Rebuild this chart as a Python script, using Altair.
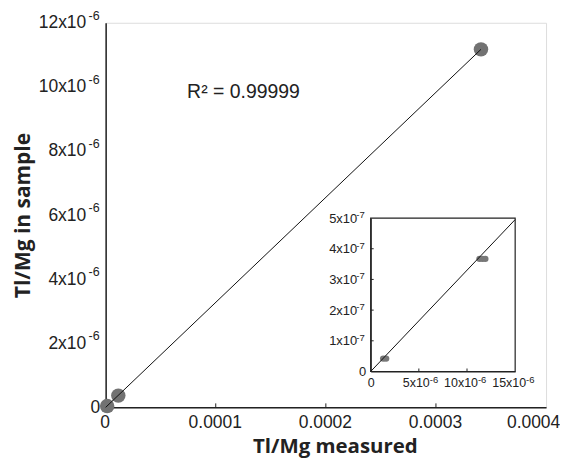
import altair as alt
import pandas as pd

# ---- data ----
main_x = [1.4e-6, 11.5e-6, 3.409e-4]
main_y = [4.2e-8, 3.67e-7, 11.17e-6]
fit_x = [0.0, 3.409e-4]
fit_y = [0.0, 11.17e-6]

inset_x = [1.3e-6, 1.6e-6, 11.3e-6, 11.6e-6, 11.9e-6]
inset_y = [4.2e-8, 4.2e-8, 3.67e-7, 3.67e-7, 3.67e-7]
inset_fit_x = [0.0, 15e-6]
inset_fit_y = [0.0, 4.95e-7]

x_ticks = [0, 1e-4, 2e-4, 3e-4, 4e-4]
y_ticks = [0, 2e-6, 4e-6, 6e-6, 8e-6, 10e-6, 12e-6]
y_exp_ticks = [2e-6, 4e-6, 6e-6, 8e-6, 10e-6, 12e-6]
x_inner_ticks = [1e-4, 2e-4, 3e-4]
inset_x_ticks = [0, 5e-6, 10e-6, 15e-6]
inset_x_exp = [5e-6, 10e-6, 15e-6]
inset_y_ticks = [0, 1e-7, 2e-7, 3e-7, 4e-7, 5e-7]
inset_y_exp = [1e-7, 2e-7, 3e-7, 4e-7, 5e-7]
inset_x_inner = [5e-6, 10e-6]
inset_y_inner = [1e-7, 2e-7, 3e-7, 4e-7]

exp6 = "-6"
exp7 = "-7"

r2_text = ["R\u00b2 = 0.99999"]
r2_x = [7.4e-5]
r2_y = [9.85e-6]

x_title = "Tl/Mg measured"
y_title = "Tl/Mg in sample"

W, H = 442, 386
INSET_XR = [266, 411]
INSET_YR = [350, 196]

LABEL_FONT = "Liberation Sans"
TITLE_FONT = "Open Sans"
INK = "#222222"

main_xscale = alt.Scale(domain=[0, 4e-4], nice=False, zero=False)
main_yscale = alt.Scale(domain=[0, 12e-6], nice=False, zero=False)
ins_xscale = alt.Scale(domain=[0, 15e-6], range=INSET_XR, nice=False, zero=False)
ins_yscale = alt.Scale(domain=[0, 5e-7], range=INSET_YR, nice=False, zero=False)

main_xaxis = alt.Axis(
    values=x_ticks,
    labelExpr="datum.value == 0 ? '0' : format(datum.value, '.4f')",
    labelFlush=False, labelOverlap=False,
    labelOffset={"condition": {"test": "datum.value > 0.00039", "value": -13}, "value": -1},
    tickSize=0, labelPadding=6, grid=False,
    labelFont=LABEL_FONT, labelFontSize=17.5, labelColor=INK,
    domainColor=INK, domainWidth=1.5,
    titleFont=TITLE_FONT, titleFontSize=20.5, titleFontWeight="bold", titleColor=INK,
    titleX=230, titleY=45, titleBaseline="alphabetic", titleAlign="center",
)
main_yaxis = alt.Axis(
    values=y_ticks,
    labelExpr="datum.value == 0 ? '0' : round(datum.value * 1e6) + 'x10'",
    labelOverlap=False, labelFlush=False,
    labelPadding={"condition": {"test": "datum.value == 0", "value": 6}, "value": 20},
    tickSize=0, grid=False,
    labelFont=LABEL_FONT, labelFontSize=17.5, labelColor=INK,
    domainColor=INK, domainWidth=1.5,
    titleFont=TITLE_FONT, titleFontSize=21, titleFontWeight="bold", titleColor=INK,
    titleX=-82, titleY=H / 2, titleAngle=270, titleAlign="center", titleBaseline="middle",
)

ins_xaxis = alt.Axis(
    orient="bottom", offset=-(H - INSET_YR[0]),
    values=inset_x_ticks,
    labelExpr="datum.value == 0 ? '0' : round(datum.value * 1e6) + 'x10'",
    labelOverlap=False, labelFlush=False,
    labelAlign={"condition": {"test": "datum.value == 0", "value": "center"}, "value": "right"},
    labelOffset={"condition": {"test": "datum.value == 0", "value": 0}, "value": 10.5},
    tickSize=0, labelPadding=5, grid=False,
    labelFont=LABEL_FONT, labelFontSize=12.5, labelColor=INK,
    domainColor=INK, domainWidth=1.2,
)
ins_yaxis = alt.Axis(
    orient="left", offset=-INSET_XR[0],
    values=inset_y_ticks,
    labelExpr="datum.value == 0 ? '0' : round(datum.value * 1e7) + 'x10'",
    labelOverlap=False, labelFlush=False,
    labelPadding={"condition": {"test": "datum.value == 0", "value": 5}, "value": 14},
    tickSize=0, grid=False,
    labelFont=LABEL_FONT, labelFontSize=13, labelColor=INK,
    domainColor=INK, domainWidth=1.2,
)

# ---- main layers ----
pts = pd.DataFrame({"x": main_x, "y": main_y})
fit = pd.DataFrame({"x": fit_x, "y": fit_y})
r2 = pd.DataFrame({"x": r2_x, "y": r2_y, "t": r2_text})
mt = pd.DataFrame({"x": x_inner_ticks})
mexp = pd.DataFrame({"y": y_exp_ticks, "t": [exp6] * len(y_exp_ticks)})

main_points = alt.Chart(pts).mark_circle(size=210, color="#727272", opacity=1).encode(
    x=alt.X("x:Q", scale=main_xscale, axis=main_xaxis, title=x_title),
    y=alt.Y("y:Q", scale=main_yscale, axis=main_yaxis, title=y_title),
)
main_line = alt.Chart(fit).mark_line(color="#111111", strokeWidth=1).encode(
    x="x:Q", y="y:Q"
)
main_text = alt.Chart(r2).mark_text(
    align="left", baseline="middle", font=LABEL_FONT, fontSize=19.5, color=INK
).encode(x="x:Q", y="y:Q", text="t:N")
main_ticks = alt.Chart(mt).mark_rule(color=INK, strokeWidth=1).encode(
    x="x:Q", y=alt.value(H), y2=alt.value(H - 4)
)
main_exp = alt.Chart(mexp).mark_text(
    align="right", baseline="alphabetic", dy=-3, font=LABEL_FONT, fontSize=12.5, color=INK
).encode(y="y:Q", x=alt.value(-6), text="t:N")
main_layer = alt.layer(main_points, main_line, main_text, main_ticks, main_exp)

# ---- inset layers ----
frame = pd.DataFrame({"x": [0.0], "x2": [15e-6], "y": [0.0], "y2": [5e-7]})
ipts = pd.DataFrame({"x": inset_x, "y": inset_y})
ifit = pd.DataFrame({"x": inset_fit_x, "y": inset_fit_y})
ixt = pd.DataFrame({"x": inset_x_inner})
iyt = pd.DataFrame({"y": inset_y_inner})
ixexp = pd.DataFrame({"x": inset_x_exp, "t": [exp6] * len(inset_x_exp)})
iyexp = pd.DataFrame({"y": inset_y_exp, "t": [exp7] * len(inset_y_exp)})

inset_frame = alt.Chart(frame).mark_rect(
    fillOpacity=0, stroke=INK, strokeWidth=1.2
).encode(
    x=alt.X("x:Q", scale=ins_xscale, axis=ins_xaxis, title=None),
    x2="x2:Q",
    y=alt.Y("y:Q", scale=ins_yscale, axis=ins_yaxis, title=None),
    y2="y2:Q",
)
inset_points = alt.Chart(ipts).mark_circle(size=42, color="#777777", opacity=1).encode(
    x="x:Q", y="y:Q"
)
inset_line = alt.Chart(ifit).mark_line(color="#111111", strokeWidth=1).encode(
    x="x:Q", y="y:Q"
)
inset_xt = alt.Chart(ixt).mark_rule(color=INK, strokeWidth=1).encode(
    x="x:Q", y=alt.value(INSET_YR[0]), y2=alt.value(INSET_YR[0] - 3)
)
inset_yt = alt.Chart(iyt).mark_rule(color=INK, strokeWidth=1).encode(
    y="y:Q", x=alt.value(INSET_XR[0]), x2=alt.value(INSET_XR[0] + 3)
)
inset_xexp = alt.Chart(ixexp).mark_text(
    align="left", baseline="alphabetic", dx=11, dy=12, font=LABEL_FONT, fontSize=9.5, color=INK
).encode(x="x:Q", y=alt.value(INSET_YR[0]), text="t:N")
inset_yexp = alt.Chart(iyexp).mark_text(
    align="right", baseline="alphabetic", dy=0, font=LABEL_FONT, fontSize=9.5, color=INK
).encode(y="y:Q", x=alt.value(INSET_XR[0] - 6), text="t:N")
inset_layer = alt.layer(inset_frame, inset_points, inset_line, inset_xt, inset_yt,
                        inset_xexp, inset_yexp)

chart = (
    alt.layer(main_layer, inset_layer)
    .resolve_scale(x="independent", y="independent")
    .properties(width=W, height=H, padding={"left": 5, "top": 1, "right": 0, "bottom": 0})
    .configure_view(stroke=INK, strokeWidth=1.5)
    .configure(background="white")
)

chart.save("out.html", embed_options={"renderer": "svg", "actions": False})
